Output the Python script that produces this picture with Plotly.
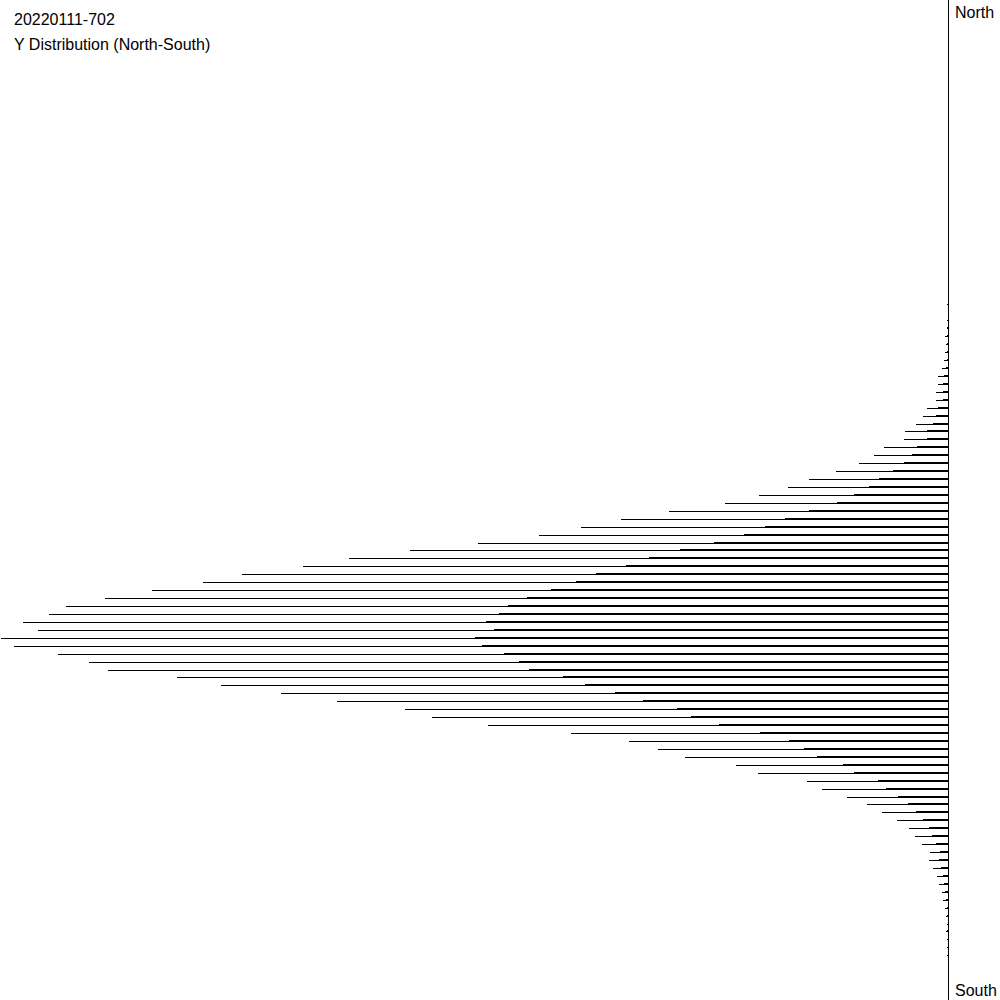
import plotly.graph_objects as go

# Bin indices (0 = northernmost of 126 bins); bins outside 38..120 are empty
bins = list(range(38, 121))

primary_counts = [
    1, 0, 1, 1, 3, 2, 3, 4, 6, 10, 10, 12, 12, 21, 25, 32, 43, 44, 64, 74,
    89, 112, 139, 160, 189, 223, 279, 327, 367, 409, 470, 538, 599, 645, 706, 745, 796, 843, 882, 899,
    925, 910, 947, 934, 890, 859, 840, 771, 727, 667, 611, 543, 516, 460, 377, 319, 290, 263, 212, 190,
    141, 126, 101, 81, 66, 51, 39, 33, 26, 18, 19, 15, 11, 9, 6, 5, 3, 2, 1, 2,
    1, 1, 1,
]

secondary_counts = [
    0, 0, 0, 1, 1, 1, 1, 1, 2, 4, 5, 5, 5, 10, 12, 15, 21, 21, 31, 36,
    44, 55, 69, 79, 94, 111, 139, 163, 183, 204, 234, 268, 299, 322, 352, 372, 397, 421, 440, 449,
    462, 454, 473, 466, 444, 429, 419, 385, 363, 333, 305, 271, 257, 229, 188, 159, 144, 131, 105, 94,
    70, 62, 50, 40, 32, 25, 19, 16, 12, 8, 9, 7, 5, 4, 3, 2, 1, 1, 0, 1,
    0, 0, 0,
]

n_bins = 126
title_line1 = "20220111-702"
title_line2 = "Y Distribution (North-South)"
north_label = "North"
south_label = "South"

px_unit = n_bins / 1000.0  # one pixel in bin units
thin = 0.0005

fig = go.Figure()
fig.add_trace(go.Bar(
    y=bins, x=primary_counts, orientation="h",
    width=thin, offset=-0.6 * px_unit,
    marker=dict(color="black", line=dict(width=0)),
    hoverinfo="x+y", showlegend=False,
))
fig.add_trace(go.Bar(
    y=bins, x=secondary_counts, orientation="h",
    width=thin, offset=-1.6 * px_unit,
    marker=dict(color="black", line=dict(width=0)),
    hoverinfo="x+y", showlegend=False,
))

fnt = dict(family="Arial, Liberation Sans, sans-serif", size=16, color="black")

fig.update_layout(
    width=1000, height=1000,
    margin=dict(l=0, r=52, t=0, b=0),
    paper_bgcolor="white", plot_bgcolor="white",
    barmode="overlay", bargap=0, bargroupgap=0,
    xaxis=dict(range=[948, 0], showgrid=False, zeroline=False, showline=False,
               showticklabels=False, ticks=""),
    yaxis=dict(range=[n_bins - 0.5, -0.5], side="right", showgrid=False, zeroline=False,
               showline=True, linecolor="black", linewidth=1,
               showticklabels=False, ticks=""),
    annotations=[
        dict(text=title_line1, xref="paper", yref="paper", x=0, y=1, xanchor="left",
             yanchor="middle", xshift=12, yshift=-19.5, showarrow=False, font=fnt),
        dict(text=title_line2, xref="paper", yref="paper", x=0, y=1, xanchor="left",
             yanchor="middle", xshift=12, yshift=-44, showarrow=False, font=fnt),
        dict(text=north_label, xref="paper", yref="paper", x=1, y=1, xanchor="left",
             yanchor="middle", xshift=5, yshift=-12.8, showarrow=False, font=fnt),
        dict(text=south_label, xref="paper", yref="paper", x=1, y=0, xanchor="left",
             yanchor="middle", xshift=5, yshift=10, showarrow=False, font=fnt),
    ],
)

fig.write_html(
    "out.html",
    config={"displayModeBar": False},
    post_script="document.body.style.margin='0';document.body.style.overflow='hidden';",
)
